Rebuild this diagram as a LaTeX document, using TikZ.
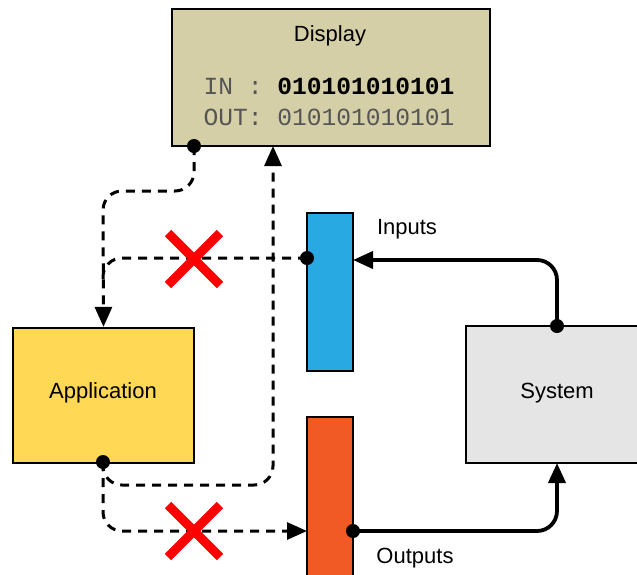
\documentclass[tikz,border=0pt]{standalone}
\usepackage{fontspec}
\setmainfont{Liberation Sans}
\newfontfamily\monofont{Liberation Mono}
\usetikzlibrary{arrows.meta,calc}
\definecolor{dispfill}{HTML}{D4CFA6}
\definecolor{appfill}{HTML}{FFD955}
\definecolor{infill}{HTML}{29A9E1}
\definecolor{outfill}{HTML}{F15A24}
\definecolor{sysfill}{HTML}{E5E5E5}
\definecolor{monogray}{HTML}{555555}
\tikzset{
  box/.style={draw=black, line width=2.2pt, inner sep=0pt, minimum width=#1},
  lbl/.style={font=\fontsize{22}{26}\selectfont, inner sep=0pt},
  mono/.style={font=\monofont\fontsize{24.6}{28}\selectfont, inner sep=0pt},
  dashline/.style={line width=3pt, dash pattern=on 9pt off 7pt, rounded corners=19pt},
  solidline/.style={line width=3.8pt, rounded corners=20pt},
  tip/.style={-{Triangle[length=20pt,width=17pt]}},
  dot/.style={circle, fill=black, inner sep=0pt, minimum size=14pt},
  cross/.style={red, line width=9pt},
}
\begin{document}
\begin{tikzpicture}[x=1pt,y=-1pt]
\useasboundingbox (0,0) rectangle (637,574);
\clip (0,0) rectangle (637,574);
% boxes
\node[box=318pt, minimum height=137pt, fill=dispfill] (disp) at (331,77.5) {};
\node[box=181pt, minimum height=135pt, fill=appfill] (app) at (103.5,395.5) {};
\node[box=46pt, minimum height=158pt, fill=infill] (inb) at (330,292) {};
\node[box=46pt, minimum height=183pt, fill=outfill] (outb) at (330,508.5) {};
\node[box=194pt, minimum height=137pt, fill=sysfill] (sys) at (563,394.5) {};
% texts
\node[lbl] (dtitle) at (330,36) {Display};
\node[mono, text=monogray] (din) at (329,86) {IN~:~\textbf{\textcolor{black}{010101010101}}};
\node[mono, text=monogray] (dout) at (329,117) {OUT:~010101010101};
\node[lbl] (apptxt) at (103,393) {Application};
\node[lbl] (systxt) at (557,393) {System};
\node[lbl] (inlbl) at (407,229) {Inputs};
\node[lbl] (outlbl) at (415,558) {Outputs};
% connection points
\coordinate (dA) at (194,146);
\coordinate (dB) at (273,146);
\coordinate (iA) at (307,258);
\coordinate (iB) at (353,260);
\coordinate (aA) at (103,462);
\coordinate (oA) at (307,531);
\coordinate (oB) at (353,531);
\coordinate (sA) at (557,326);
\coordinate (sB) at (557,463);
% dashed connectors
\draw[dashline, tip] (dA) -- (194,191) -- (103,191) -- (app.north);
\draw[dashline] (iA) -- (103,258) -- (103,285);
\draw[dashline, tip] (aA) -- (103,485) -- (273,485) -- (dB);
\draw[dashline, tip] (aA) -- (103,531) -- (oA);
% solid connectors
\draw[solidline, tip] (sA) -- (557,260) -- (iB);
\draw[solidline, tip] (oB) -- (557,531) -- (sB);
% dots
\node[dot] at (dA) {};
\node[dot] at (iA) {};
\node[dot] at (aA) {};
\node[dot] at (oB) {};
\node[dot] at (sA) {};
% crosses
\draw[cross] (168,233) -- (220,285) (168,285) -- (220,233);
\draw[cross] (168,505) -- (220,557) (168,557) -- (220,505);
\end{tikzpicture}
\end{document}
